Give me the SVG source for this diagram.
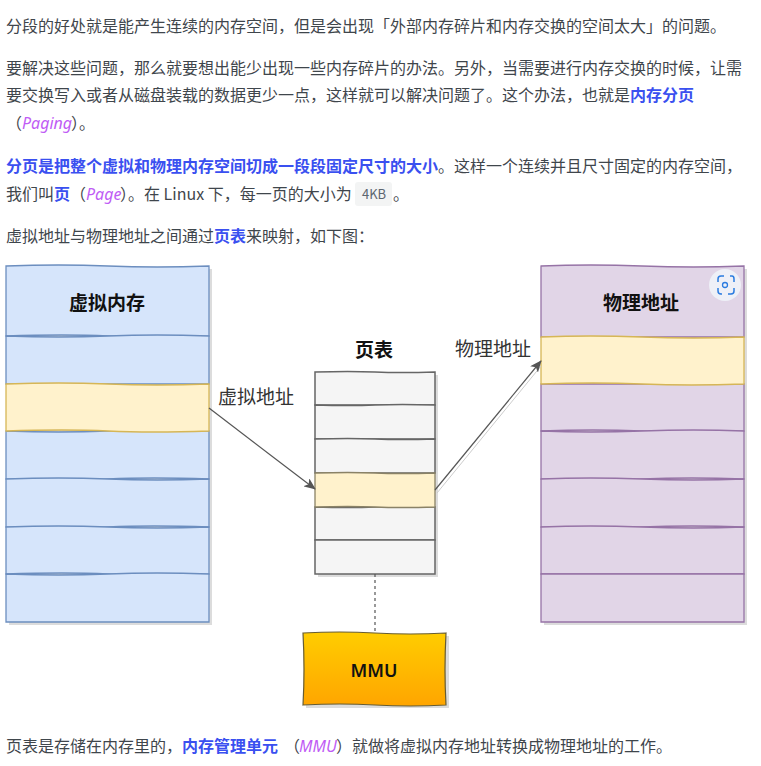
<svg xmlns="http://www.w3.org/2000/svg" width="761" height="766" viewBox="0 0 761 766">
<style>
text{font-family:"Noto Sans CJK SC","Noto Sans",sans-serif}
.t{font-size:16px;fill:#3f464c}
.b{font-size:16px;font-weight:700;fill:#3a50f0}
.i{font-size:16px;font-style:italic;fill:#c05cf5;font-family:"Noto Sans","Noto Sans CJK SC",sans-serif}
.h{font-size:19px;font-weight:700;fill:#111;text-anchor:middle}
.l{font-size:19px;fill:#333;text-anchor:middle}
.bl{fill:#d6e5fb;stroke:#6c8ebf;stroke-width:1.3}
.pu{fill:#e1d5e7;stroke:#9673a6;stroke-width:1.3}
.ye{fill:#fff2cc;stroke:#d6b656;stroke-width:1.3}
.gr{fill:#f5f5f5;stroke:#666;stroke-width:1.5}
.sh{fill:#c4c4c4;opacity:.6}
.c{fill:none;stroke:#555;stroke-width:1.2}
</style>
<defs>
<linearGradient id="g" x1="0" y1="0" x2="0" y2="1"><stop offset="0" stop-color="#ffcd00"/><stop offset="1" stop-color="#ffa500"/></linearGradient>
<marker id="a" markerWidth="12" markerHeight="10" refX="11" refY="5" orient="auto" markerUnits="userSpaceOnUse"><path d="M0 0L12 5L0 10L3 5Z" fill="#555"/></marker>
</defs>
<g id="prose">
<text class="t" x="6" y="32">分段的好处就是能产生连续的内存空间，但是会出现「外部内存碎片和内存交换的空间太大」的问题。</text>
<text class="t" x="6" y="74">要解决这些问题，那么就要想出能少出现一些内存碎片的办法。另外，当需要进行内存交换的时候，让需</text>
<text class="t" x="6" y="101">要交换写入或者从磁盘装载的数据更少一点，这样就可以解决问题了。这个办法，也就是</text>
<text class="b" x="630" y="101">内存分页</text>
<text class="t" x="6" y="129">（</text><text class="i" x="22" y="129">Paging</text><text class="t" x="71" y="129">）。</text>
<text class="b" x="6" y="172">分页是把整个虚拟和物理内存空间切成一段段固定尺寸的大小</text>
<text class="t" x="438" y="172">。这样一个连续并且尺寸固定的内存空间，</text>
<text class="t" x="6" y="200">我们叫</text><text class="b" x="54" y="200">页</text><text class="t" x="70" y="200">（</text><text class="i" x="86" y="200">Page</text><text class="t" x="120" y="200">）。在 Linux 下，每一页的大小为</text>
<rect x="355" y="182" width="37" height="24" rx="3" fill="#f3f4f4"/>
<text x="362" y="199" font-size="13" fill="#5c6670">4KB</text>
<text class="t" x="393" y="200">。</text>
<text class="t" x="6" y="242">虚拟地址与物理地址之间通过</text><text class="b" x="214" y="242">页表</text><text class="t" x="246" y="242">来映射，如下图：</text>
<text class="t" x="6" y="752">页表是存储在内存里的，</text><text class="b" x="182" y="752">内存管理单元</text><text class="t" x="284" y="752">（</text><text class="i" x="299" y="752">MMU</text><text class="t" x="336" y="752">）就做将虚拟内存地址转换成物理地址的工作。</text>
</g>
<g id="virtual-memory">
<rect class="sh" x="9" y="269" width="203" height="356"/>
<path class="bl" d="M6 266Q60 264 108 266T209 266L209 336Q150 338 108 336T6 336Z"/>
<path class="bl" d="M6 336Q60 338 108 336T209 336L209 384L6 384Z"/>
<path class="bl" d="M6 431Q60 433 108 431T209 431L209 479Q150 477 108 479T6 479Z"/>
<path class="bl" d="M6 479Q60 477 108 479T209 479L209 527Q150 525 108 527T6 527Z"/>
<path class="bl" d="M6 527Q60 525 108 527T209 527L209 574Q150 576 108 574T6 574Z"/>
<path class="bl" d="M6 574Q60 576 108 574T209 574L209 622L6 622Z"/>
<path class="ye" d="M6 384Q60 382 108 384T209 384L209 431Q150 433 108 431T6 431Z"/>
<text class="h" x="107" y="310">虚拟内存</text>
</g>
<g id="physical-memory">
<rect class="sh" x="544" y="269" width="203" height="356"/>
<path class="pu" d="M541 266Q590 264 642 266T744 266L744 337L541 337Z"/>
<path class="pu" d="M541 384L744 384L744 431Q690 433 642 431T541 431Z"/>
<path class="pu" d="M541 431Q590 433 642 431T744 431L744 479Q690 477 642 479T541 479Z"/>
<path class="pu" d="M541 479Q590 477 642 479T744 479L744 527Q690 525 642 527T541 527Z"/>
<path class="pu" d="M541 527Q590 525 642 527T744 527L744 574L541 574Z"/>
<path class="pu" d="M541 574L744 574L744 622L541 622Z"/>
<path class="ye" d="M541 337Q590 335 642 337T744 337L744 384Q690 386 642 384T541 384Z"/>
<text class="h" x="641" y="310">物理地址</text>
</g>
<g id="page-table">
<rect class="sh" x="318" y="375" width="120" height="202"/>
<path class="gr" d="M315 372Q350 371 375 372T435 372L435 405L315 405Z"/>
<path class="gr" d="M315 405Q350 406 375 405T435 405L435 439L315 439Z"/>
<path class="gr" d="M315 439Q350 438 375 439T435 439L435 473L315 473Z"/>
<path class="gr" d="M315 507Q350 508 375 507T435 507L435 540L315 540Z"/>
<path class="gr" d="M315 540L435 540L435 574L315 574Z"/>
<path d="M315 473Q350 472 375 473T435 473L435 507Q400 508 375 507T315 507Z" fill="#fff2cc" stroke="#8a8266" stroke-width="1.3"/>
<text class="h" x="374" y="357">页表</text>
</g>
<g id="mmu">
<rect class="sh" x="306" y="636" width="143" height="72"/>
<path d="M303 633Q340 631 375 633T446 633Q444 670 446 705Q410 707 375 705T303 705Q305 670 303 633Z" fill="url(#g)" stroke="#665c33" stroke-width="1.2"/>
<text x="374" y="677" font-size="18" text-anchor="middle" fill="#111" style="font-family:'Noto Sans',sans-serif" font-weight="600">MMU</text>
</g>
<g id="connectors">
<path class="c" d="M209 408L315 489" marker-end="url(#a)"/>
<path d="M437 493L541 366" fill="none" stroke="#ccc" stroke-width="1"/>
<path class="c" d="M435 490L541 361" marker-end="url(#a)"/>
<path d="M375 574L375 633" fill="none" stroke="#555" stroke-width="1.2" stroke-dasharray="3 3"/>
</g>
<g id="labels">
<text class="l" x="256" y="404">虚拟地址</text>
<text class="l" x="493" y="356">物理地址</text>
</g>
<g id="lens-button">
<circle cx="725" cy="285" r="16" fill="#eef0f7"/>
<path d="M718 282v-3q0-3 3-3h3M730 276h2q2 0 2 3v3M734 288v3q0 3-3 3h-3M722 294h-1q-3 0-3-3v-3" fill="none" stroke="#2a7be0" stroke-width="1.5"/>
<circle cx="725" cy="285" r="2.5" fill="none" stroke="#2a7be0" stroke-width="1.3"/>
</g>
</svg>
